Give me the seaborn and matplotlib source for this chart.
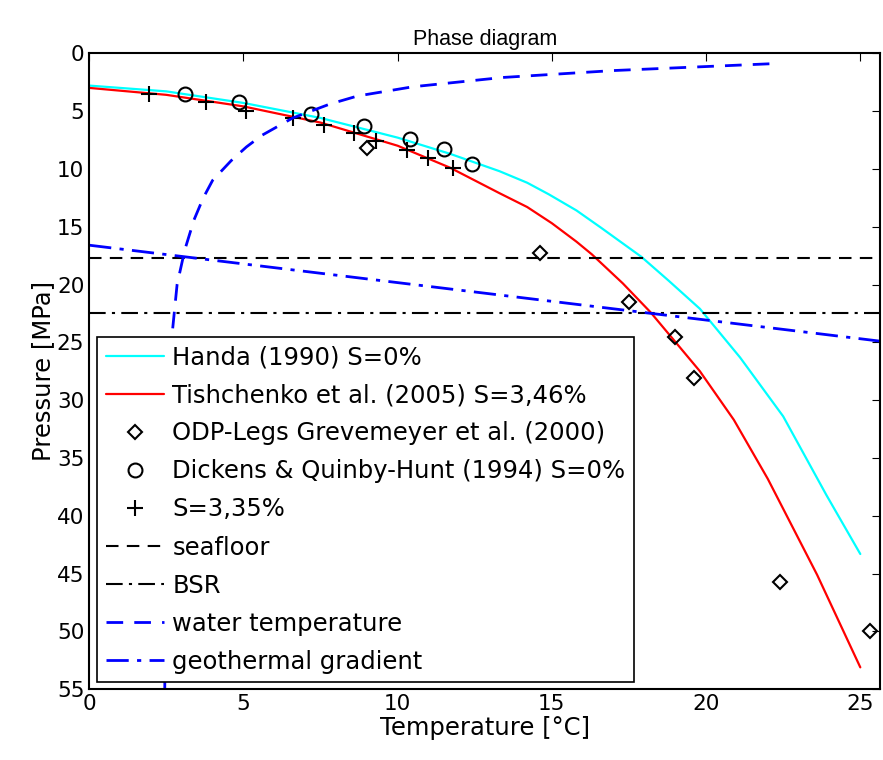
import matplotlib
matplotlib.use("Agg")
import matplotlib.pyplot as plt
import seaborn as sns

sns.set_style("white")
plt.rcParams['font.family'] = ['DejaVu Sans']

handa_T = [0, 2.5, 5, 7.5, 10, 11.7, 13.3, 14.2, 14.9, 15.8, 16.6, 17.9, 18.8, 19.8, 21.1, 22.5, 23.9, 25]
handa_P = [2.8, 3.3, 4.3, 5.6, 7.3, 8.7, 10.2, 11.2, 12.2, 13.6, 15.1, 17.6, 19.7, 22.1, 26.3, 31.4, 38.2, 43.3]
tish_T = [0, 2.5, 5, 7.5, 10, 11.7, 13.3, 14.2, 15.0, 15.8, 16.3, 17.3, 18.2, 19.8, 20.9, 22.0, 23.6, 25.0]
tish_P = [3.0, 3.6, 4.6, 6.0, 8.0, 9.9, 12.1, 13.3, 14.7, 16.3, 17.4, 19.9, 22.4, 27.5, 31.7, 36.8, 45.1, 53.1]
odp_T = [9.0, 14.6, 17.5, 19.0, 19.6, 22.4, 25.3]
odp_P = [8.2, 17.3, 21.5, 24.5, 28.1, 45.7, 50.0]
dick_T = [3.1, 4.85, 7.2, 8.9, 10.4, 11.5, 12.4]
dick_P = [3.5, 4.2, 5.3, 6.3, 7.4, 8.3, 9.6]
s335_T = [1.95, 3.8, 5.1, 6.6, 7.6, 8.6, 9.3, 10.3, 11.0, 11.8]
s335_P = [3.5, 4.2, 5.0, 5.6, 6.2, 6.9, 7.6, 8.4, 9.1, 9.9]
seafloor_P = 17.7
bsr_P = 22.5
water_T = [2.45, 2.5, 2.6, 2.7, 2.85, 3.1, 3.4, 3.7, 4.0, 4.6, 5.1, 5.6, 6.6, 7.8, 8.7, 10.5, 13.4, 17.0, 22.2]
water_P = [55, 40, 30, 24, 20, 17, 14.4, 12.5, 11.0, 9.3, 8.1, 7.1, 5.6, 4.4, 3.7, 2.9, 2.1, 1.5, 0.9]
geo_T = [0, 25.65]
geo_P = [16.6, 24.9]

fig = plt.figure(figsize=(8.83, 7.6), dpi=100)
ax = fig.add_axes([0.101, 0.093, 0.896, 0.837])
fs = 17.5

sns.lineplot(x=handa_T, y=handa_P, ax=ax, color='cyan', lw=1.6, label='Handa (1990) S=0%')
sns.lineplot(x=tish_T, y=tish_P, ax=ax, color='red', lw=1.6, label='Tishchenko et al. (2005) S=3,46%')
ax.plot(odp_T, odp_P, ls='none', marker='D', ms=7, mfc='none', mec='black', mew=1.5, label='ODP-Legs Grevemeyer et al. (2000)')
ax.plot(dick_T, dick_P, ls='none', marker='o', ms=10, mfc='none', mec='black', mew=1.5, label='Dickens & Quinby-Hunt (1994) S=0%')
ax.plot(s335_T, s335_P, ls='none', marker='+', ms=12, mec='black', mew=1.5, label='S=3,35%')
ax.axhline(seafloor_P, color='black', ls=(0, (6, 4)), lw=1.5, label='seafloor')
ax.axhline(bsr_P, color='black', ls=(0, (8, 3, 1.5, 3)), lw=1.5, label='BSR')
ax.plot(water_T, water_P, color='blue', ls=(0, (6, 4)), lw=2, label='water temperature')
ax.plot(geo_T, geo_P, color='blue', ls=(0, (8, 3, 1.5, 3)), lw=2, label='geothermal gradient')

ax.set_xlim(0, 25.65)
ax.set_ylim(55, 0)
ax.set_xticks([0, 5, 10, 15, 20, 25])
ax.set_yticks(range(0, 56, 5))
ax.tick_params(labelsize=15.5, direction='in', length=6, top=True, right=True, color='black', labelcolor='black')
for s in ax.spines.values():
    s.set_color('black'); s.set_linewidth(1.5)
ax.set_xlabel('Temperature [°C]', fontsize=fs, labelpad=1, color='black')
ax.set_ylabel('Pressure [MPa]', fontsize=fs, labelpad=1, color='black')
ax.set_title('Phase diagram', fontsize=15.5, pad=6, family='Liberation Sans', color='black')
leg = ax.legend(loc='lower left', bbox_to_anchor=(0.01, 0.011), fontsize=fs, frameon=True,
                fancybox=False, edgecolor='black', framealpha=1, borderaxespad=0,
                handlelength=2.4, handletextpad=0.35, labelspacing=0.58, borderpad=0.35)
leg.get_frame().set_linewidth(1.2)
for t in leg.get_texts():
    t.set_color('black')
fig.savefig('out.png', dpi=100)
